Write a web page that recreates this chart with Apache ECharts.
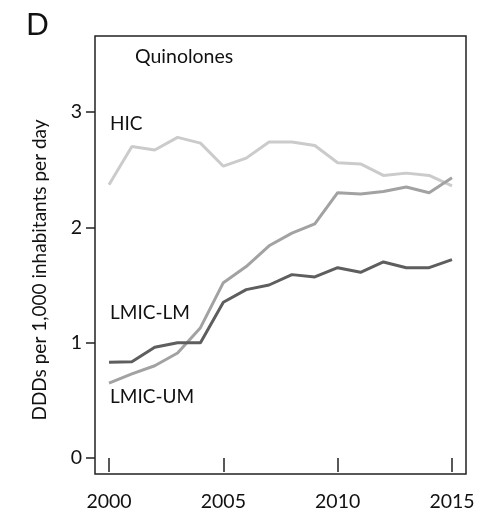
<!DOCTYPE html>
<html><head><meta charset="utf-8">
<script src="https://cdn.jsdelivr.net/npm/echarts@6/dist/echarts.min.js"></script>
<style>html,body{margin:0;padding:0;background:#fff}#c{width:481px;height:517px}</style>
</head><body><div id="c"></div>
<script>
var years = [2000,2001,2002,2003,2004,2005,2006,2007,2008,2009,2010,2011,2012,2013,2014,2015];
var hic    = [2.37,2.70,2.67,2.78,2.73,2.53,2.60,2.74,2.74,2.71,2.56,2.55,2.45,2.47,2.45,2.36];
var lmicUM = [0.65,0.73,0.80,0.91,1.13,1.52,1.66,1.84,1.95,2.03,2.30,2.29,2.31,2.35,2.30,2.43];
var lmicLM = [0.83,0.835,0.96,1.00,1.00,1.35,1.46,1.50,1.59,1.57,1.65,1.61,1.70,1.65,1.65,1.72];
var yTicks = [0,1,2,3];
var xTicks = [2000,2005,2010,2015];
var seriesNames = ['HIC','LMIC-UM','LMIC-LM'];
var FONT = 'Lato, "Open Sans", sans-serif';

function pairs(v){ return years.map(function(y,i){ return [y, v[i]]; }); }

var chart = echarts.init(document.getElementById('c'), null, {renderer:'canvas'});
chart.setOption({
  animation:false,
  backgroundColor:'#fff',
  grid:[
    {left:95, right:15, top:36, bottom:43, show:true, borderColor:'#222', borderWidth:1.5, backgroundColor:'transparent'},
    {left:109, right:29, top:112, bottom:59}
  ],
  xAxis:[
    {gridIndex:0, type:'value', show:false},
    {gridIndex:1, type:'value', min:xTicks[0], max:xTicks[xTicks.length-1], interval:5,
     offset:16, axisLine:{show:false},
     axisTick:{show:true, length:14, lineStyle:{color:'#222', width:1.5}},
     axisLabel:{fontSize:19.5, color:'#111', fontFamily:FONT, margin:18,
       formatter:function(v){ return String(v); }},
     splitLine:{show:false}}
  ],
  yAxis:[
    {gridIndex:0, type:'value', show:false},
    {gridIndex:1, type:'value', min:yTicks[0], max:yTicks[yTicks.length-1], interval:1,
     offset:14, axisLine:{show:false},
     axisTick:{show:true, length:9, lineStyle:{color:'#222', width:1.5}},
     axisLabel:{fontSize:19.5, color:'#111', fontFamily:FONT, margin:13},
     splitLine:{show:false}}
  ],
  series:[
    {name:seriesNames[0], type:'line', xAxisIndex:1, yAxisIndex:1, data:pairs(hic), showSymbol:false,
     lineStyle:{color:'#cbcbcb', width:3}, z:3},
    {name:seriesNames[1], type:'line', xAxisIndex:1, yAxisIndex:1, data:pairs(lmicUM), showSymbol:false,
     lineStyle:{color:'#a2a2a2', width:3}, z:4},
    {name:seriesNames[2], type:'line', xAxisIndex:1, yAxisIndex:1, data:pairs(lmicLM), showSymbol:false,
     lineStyle:{color:'#5e5e5e', width:3}, z:5}
  ],
  graphic:[
    {type:'text', left:26, top:10, style:{text:'D', font:'30px '+FONT, fill:'#111'}},
    {type:'text', left:135, top:47, style:{text:'Quinolones', font:'19.5px '+FONT, fill:'#111'}},
    {type:'text', left:110, top:114, style:{text:seriesNames[0], font:'19px '+FONT, fill:'#111'}},
    {type:'text', left:110, top:303, style:{text:seriesNames[2], font:'19px '+FONT, fill:'#111'}},
    {type:'text', left:110, top:387, style:{text:seriesNames[1], font:'19px '+FONT, fill:'#111'}},
    {type:'text', x:40, y:270, rotation:Math.PI/2,
     style:{text:'DDDs per 1,000 inhabitants per day', font:'19px '+FONT, fill:'#111', align:'center', verticalAlign:'middle'}}
  ]
});
</script></body></html>
